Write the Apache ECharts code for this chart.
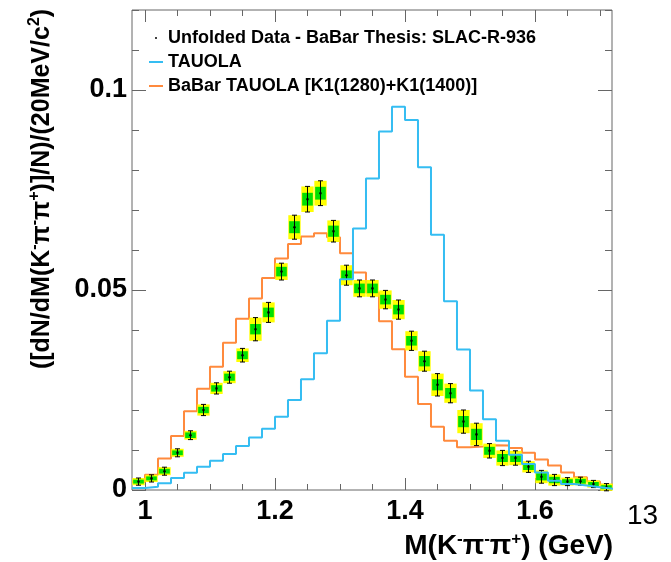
<!DOCTYPE html>
<html>
<head>
<meta charset="utf-8">
<script src="https://cdn.jsdelivr.net/npm/echarts@6/dist/echarts.min.js"></script>
<style>html,body{margin:0;padding:0;background:#fff;}#c{width:671px;height:562px;}</style>
</head>
<body>
<div id="c"></div>
<script>
// ---- data ----
var binEdges = [0.98,1.00,1.02,1.04,1.06,1.08,1.10,1.12,1.14,1.16,1.18,1.20,1.22,1.24,1.26,1.28,1.30,1.32,1.34,1.36,1.38,1.40,1.42,1.44,1.46,1.48,1.50,1.52,1.54,1.56,1.58,1.60,1.62,1.64,1.66,1.68,1.70,1.72];
var binCenters = [0.99,1.01,1.03,1.05,1.07,1.09,1.11,1.13,1.15,1.17,1.19,1.21,1.23,1.25,1.27,1.29,1.31,1.33,1.35,1.37,1.39,1.41,1.43,1.45,1.47,1.49,1.51,1.53,1.55,1.57,1.59,1.61,1.63,1.65,1.67,1.69,1.71];
var tauola = [0.0005,0.0008,0.0017,0.0030,0.0043,0.0058,0.0073,0.0090,0.0110,0.0131,0.0153,0.0183,0.0225,0.0277,0.0342,0.0423,0.0527,0.0654,0.0779,0.0896,0.0958,0.0925,0.0807,0.0638,0.0472,0.0351,0.0249,0.0177,0.0123,0.0088,0.0065,0.0044,0.0023,0.0015,0.0011,0.0007,0.0003];
var babarTauola = [0.0020,0.0038,0.0079,0.0135,0.0197,0.0253,0.0308,0.0368,0.0428,0.0479,0.0530,0.0579,0.0615,0.0634,0.0642,0.0632,0.0592,0.0544,0.0494,0.0422,0.0352,0.0283,0.0215,0.0158,0.0123,0.0107,0.0109,0.0112,0.0111,0.0105,0.0093,0.0076,0.0061,0.0044,0.0032,0.0021,0.0013];
var unfolded = [0.0021,0.0029,0.0047,0.0093,0.0137,0.0200,0.0254,0.0282,0.0337,0.0402,0.0444,0.0546,0.0657,0.0727,0.0742,0.0647,0.0537,0.0504,0.0504,0.0476,0.0451,0.0373,0.0322,0.0263,0.0242,0.0171,0.0139,0.0098,0.0080,0.0080,0.0058,0.0033,0.0025,0.0021,0.0022,0.0015,0.0007];
var errTotal = [0.0009,0.0009,0.0010,0.0010,0.0011,0.0014,0.0014,0.0015,0.0017,0.0029,0.0025,0.0021,0.0030,0.0032,0.0031,0.0027,0.0025,0.0021,0.0021,0.0023,0.0024,0.0024,0.0025,0.0028,0.0024,0.0029,0.0028,0.0018,0.0019,0.0018,0.0014,0.0016,0.0014,0.0010,0.0010,0.0009,0.0009];
var errStat = [0.0005,0.0005,0.0006,0.0006,0.0007,0.0008,0.0008,0.0009,0.0010,0.0013,0.0012,0.0012,0.0015,0.0016,0.0016,0.0014,0.0012,0.0012,0.0012,0.0012,0.0012,0.0012,0.0013,0.0014,0.0013,0.0014,0.0014,0.0010,0.0010,0.0010,0.0008,0.0009,0.0008,0.0006,0.0006,0.0005,0.0005];
var xMajorTicks = [1.0,1.2,1.4,1.6];
var xMinorTicks = [1.0,1.05,1.1,1.15,1.2,1.25,1.3,1.35,1.4,1.45,1.5,1.55,1.6,1.65,1.7];
var yMajorTicks = [0,0.05,0.1];
var yMinorTicks = [0,0.01,0.02,0.03,0.04,0.05,0.06,0.07,0.08,0.09,0.1,0.11,0.12];
var nameData = 'Unfolded Data - BaBar Thesis: SLAC-R-936';
var nameTauola = 'TAUOLA';
var nameBabar = 'BaBar TAUOLA [K1(1280)+K1(1400)]';

// ---- build ----
function histData(vals) {
  var d = [];
  for (var i = 0; i < vals.length; i++) d.push([binEdges[i], vals[i]]);
  d.push([binEdges[vals.length], vals[vals.length - 1]]);
  return d;
}
var pointData = [];
for (var i = 0; i < unfolded.length; i++) pointData.push([binCenters[i], unfolded[i], errTotal[i], errStat[i]]);

var FF = 'Liberation Sans, Arial, Helvetica, sans-serif';
var XMIN = 0.98, XMAX = 1.7185;
var frameColor = '#666';

function xAx(pos, ticks, len, labels) {
  return {
    type: 'value', min: XMIN, max: XMAX, position: pos, gridIndex: 0,
    axisLine: {show: false, onZero: false},
    splitLine: {show: false},
    axisTick: {show: true, inside: true, length: len, customValues: ticks, lineStyle: {color: frameColor, width: 1}},
    axisLabel: labels ? {show: true, customValues: xMajorTicks, fontSize: 27, fontWeight: 'bold', fontFamily: FF, color: '#000', margin: 8} : {show: false}
  };
}
function yAx(pos, ticks, len, labels) {
  return {
    type: 'value', min: 0, max: 0.12, position: pos, gridIndex: 0,
    axisLine: {show: false, onZero: false},
    splitLine: {show: false},
    axisTick: {show: true, inside: true, length: len, customValues: ticks, lineStyle: {color: frameColor, width: 1}},
    axisLabel: labels ? {show: true, customValues: yMajorTicks, fontSize: 27, fontWeight: 'bold', fontFamily: FF, color: '#000', margin: 5} : {show: false}
  };
}

var chart = echarts.init(document.getElementById('c'), null, {renderer: 'canvas'});
chart.setOption({
  animation: false,
  backgroundColor: '#fff',
  grid: {left: 132, top: 10, width: 480, height: 480, show: true, borderColor: frameColor, borderWidth: 1, backgroundColor: 'transparent'},
  xAxis: [xAx('bottom', xMajorTicks, 12, true), xAx('bottom', xMinorTicks, 6, false), xAx('top', xMajorTicks, 12, false), xAx('top', xMinorTicks, 6, false)],
  yAxis: [yAx('left', yMajorTicks, 14, true), yAx('left', yMinorTicks, 7, false), yAx('right', yMajorTicks, 14, false), yAx('right', yMinorTicks, 7, false)],
  legend: {
    orient: 'vertical', left: 148, top: 26, padding: 0, itemGap: 0,
    itemWidth: 14, itemHeight: 2, selectedMode: false,
    textStyle: {fontSize: 18, fontWeight: 'bold', fontFamily: FF, color: '#000', lineHeight: 24},
    data: [
      {name: nameData, icon: 'circle', itemStyle: {color: '#000'}},
      {name: nameTauola},
      {name: nameBabar}
    ]
  },
  graphic: [
    {type: 'text', right: 58, top: 531, z: 10, style: {
      text: '{b|M(K}{s|-}{b|π}{s|-}{b|π}{s|+}{b|) (GeV)}',
      rich: {b: {fontSize: 28, fontWeight: 'bold', fontFamily: FF, lineHeight: 30, fill: '#000'},
             s: {fontSize: 17, fontWeight: 'bold', fontFamily: FF, lineHeight: 16, verticalAlign: 'top', fill: '#000'}}
    }},
    {type: 'text', x: 42, y: 189, rotation: Math.PI / 2, z: 10, style: {
      text: '{b|([dN/dM(K}{s|-}{b|π}{s|-}{b|π}{s|+}{b|)]/N)/(20MeV/c}{s|2}{b|)}',
      align: 'center', verticalAlign: 'middle',
      rich: {b: {fontSize: 25, fontWeight: 'bold', fontFamily: FF, lineHeight: 30, fill: '#000'},
             s: {fontSize: 16, fontWeight: 'bold', fontFamily: FF, lineHeight: 16, verticalAlign: 'top', fill: '#000'}}
    }},
    {type: 'text', left: 627, top: 502, z: 10, style: {text: '13', fontSize: 28, fontFamily: FF, fill: '#000'}}
  ],
  series: [
    {
      name: nameBabar, type: 'line', step: 'end', xAxisIndex: 0, yAxisIndex: 0,
      data: histData(babarTauola), symbol: 'none', clip: true, z: 2,
      lineStyle: {color: '#ff8a3d', width: 2}, itemStyle: {color: '#ff8a3d'}
    },
    {
      name: nameData, type: 'custom', xAxisIndex: 0, yAxisIndex: 0, z: 3,
      data: pointData, itemStyle: {color: '#000'},
      renderItem: function (params, api) {
        var x = api.value(0), y = api.value(1), et = api.value(2), es = api.value(3);
        var c = api.coord([x, y]);
        var yT1 = api.coord([x, y + et])[1], yT0 = api.coord([x, y - et])[1];
        var yS1 = api.coord([x, y + es])[1], yS0 = api.coord([x, y - es])[1];
        var xl = api.coord([x - 0.0095, y])[0], xr = api.coord([x + 0.0095, y])[0];
        var gl = api.coord([x - 0.0082, y])[0], gr = api.coord([x + 0.0082, y])[0];
        return {type: 'group', children: [
          {type: 'rect', shape: {x: xl, y: yT1, width: xr - xl, height: yT0 - yT1}, style: {fill: '#ffff00'}},
          {type: 'rect', shape: {x: gl, y: yS1, width: gr - gl, height: yS0 - yS1}, style: {fill: '#00e000'}},
          {type: 'line', shape: {x1: c[0], y1: yT1, x2: c[0], y2: yT0}, style: {stroke: '#000', lineWidth: 1}},
          {type: 'line', shape: {x1: c[0] - 2.5, y1: yT1, x2: c[0] + 2.5, y2: yT1}, style: {stroke: '#000', lineWidth: 1}},
          {type: 'line', shape: {x1: c[0] - 2.5, y1: yT0, x2: c[0] + 2.5, y2: yT0}, style: {stroke: '#000', lineWidth: 1}},
          {type: 'circle', shape: {cx: c[0], cy: c[1], r: 1.3}, style: {fill: '#000'}}
        ]};
      }
    },
    {
      name: nameTauola, type: 'line', step: 'end', xAxisIndex: 0, yAxisIndex: 0,
      data: histData(tauola), symbol: 'none', clip: true, z: 4,
      lineStyle: {color: '#35bdf2', width: 2}, itemStyle: {color: '#35bdf2'}
    }
  ]
});
</script>
</body>
</html>
